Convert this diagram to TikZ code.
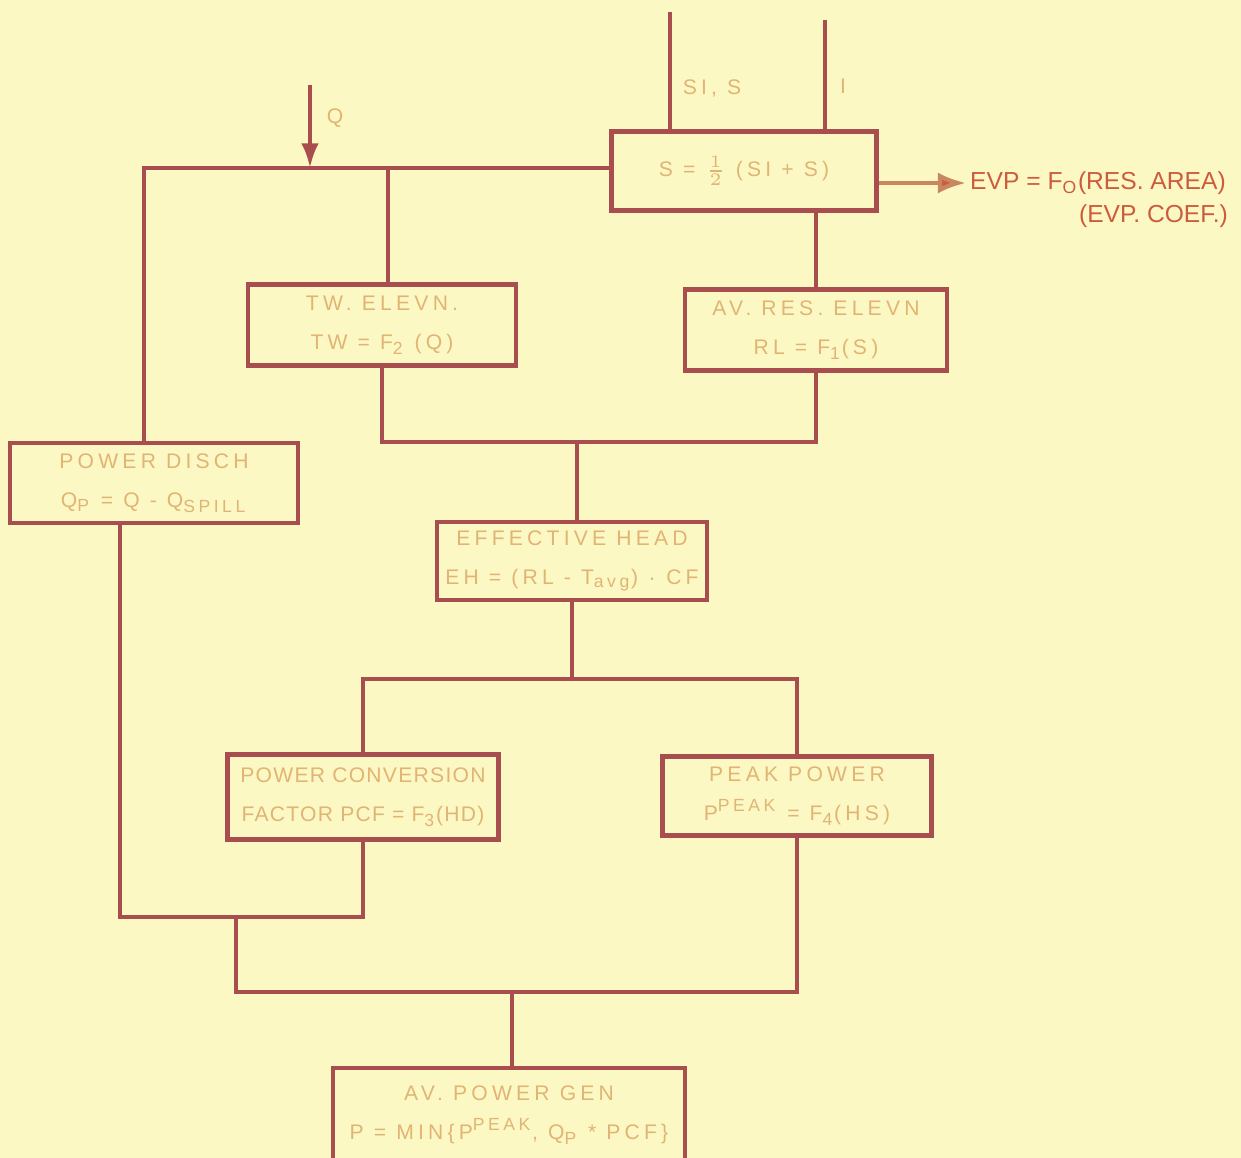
\documentclass[tikz,border=0pt]{standalone}
\usepackage{fontspec}
\newfontfamily\lettering[LetterSpace=20]{Liberation Sans}
\newfontfamily\tightlettering[LetterSpace=6]{Liberation Sans}
\newfontfamily\scrawl{Liberation Sans}
\usetikzlibrary{arrows.meta}
\definecolor{paper}{RGB}{252,248,196}
\definecolor{ink}{RGB}{168,78,78}
\definecolor{faded}{RGB}{226,180,116}
\definecolor{evpred}{RGB}{205,92,62}
\tikzset{font=\lettering\fontsize{6}{9}\selectfont}
\tikzset{blk/.style={draw=ink, line width=1.2pt, inner sep=0pt, align=center, text=faded}}
\tikzset{flow/.style={ink, line width=1.2pt}}
\tikzset{lbl/.style={text=faded, inner sep=1pt}}
\tikzset{evptext/.style={text=evpred, inner sep=1pt, font=\scrawl\fontsize{7}{9}\selectfont}}

\begin{document}
\begin{tikzpicture}[x=0.01cm,y=-0.01cm]
  \fill[paper] (0,0) rectangle (1241,1158);
  \useasboundingbox (0,0) rectangle (1241,1158);

  % boxes
  \node[blk,minimum width=2.65cm,minimum height=0.79cm] (savg) at (744,171)
       {S = $\frac{1}{2}$ (SI + S)};
  \node[blk,minimum width=2.68cm,minimum height=0.81cm] (tw) at (382,325)
       {TW. ELEVN.\\[2pt] TW = F\textsubscript{2} (Q)};
  \node[blk,minimum width=2.62cm,minimum height=0.81cm] (res) at (816,330)
       {AV. RES. ELEVN\\[2pt] RL = F\textsubscript{1}(S)};
  \node[blk,minimum width=2.88cm,minimum height=0.80cm] (disch) at (154,483)
       {POWER DISCH\\[2pt] Q\textsubscript{P} = Q - Q\textsubscript{SPILL}};
  \node[blk,minimum width=2.70cm,minimum height=0.78cm] (head) at (572,561)
       {EFFECTIVE HEAD\\[2pt] EH = (RL - T\textsubscript{avg}) $\cdot$ CF};
  \node[blk,minimum width=2.71cm,minimum height=0.85cm,font=\tightlettering\fontsize{6}{9}\selectfont] (conv) at (363,797)
       {POWER CONVERSION\\[2pt] FACTOR PCF = F\textsubscript{3}(HD)};
  \node[blk,minimum width=2.69cm,minimum height=0.79cm] (peak) at (797,796)
       {PEAK POWER\\[2pt] P\textsuperscript{PEAK} = F\textsubscript{4}(HS)};
  \node[blk,minimum width=3.52cm,minimum height=0.94cm] (gen) at (509,1115)
       {AV. POWER GEN\\[2pt] P = MIN\{P\textsuperscript{PEAK}, Q\textsubscript{P} * PCF\}};

  % inputs
  \coordinate (inSI) at (670,12);
  \coordinate (inI) at (825,20);
  \coordinate (inQ) at (310,85);
  \draw[flow] (inSI) -- (inSI |- savg.north);
  \draw[flow] (inI) -- (inI |- savg.north);
  \node[lbl] (lblSI) at (712,88) {SI, S};
  \node[lbl] (lblI) at (843,86) {I};
  \node[lbl] (lblQ) at (335,118) {Q};

  % upper distribution
  \coordinate (jQ) at (310,168);
  \coordinate (jL) at (144,168);
  \coordinate (jTW) at (388,168);
  \draw[flow,-{Latex[length=7pt,width=5pt]}] (inQ) -- (jQ);
  \draw[flow] (savg.west |- jL) -- (jL) -- (jL |- disch.north);
  \draw[flow] (jTW) -- (jTW |- tw.north);
  \draw[flow] (res.north) -- (res.north |- savg.south);

  % evaporation
  \node[evptext,anchor=west] (evp) at (966,183) {EVP = F\textsubscript{O}(RES. AREA)};
  \node[evptext,anchor=east] (coef) at (1232,216) {(EVP. COEF.)};
  \draw[draw={rgb,255:red,200;green,135;blue,95},line width=1.2pt,
        -{Latex[length=8pt,width=6pt,fill=evpred]}] (savg.east |- evp.west) -- (evp.west);

  % head
  \coordinate (jHead) at (577,442);
  \draw[flow] (tw.south) -- (tw.south |- jHead) -- (res.south |- jHead) -- (res.south);
  \draw[flow] (jHead) -- (jHead |- head.north);

  % split
  \coordinate (jSplit) at (570,679);
  \draw[flow] (head.south) -- (head.south |- jSplit);
  \draw[flow] (conv.north) -- (conv.north |- jSplit) -- (peak.north |- jSplit) -- (peak.north);

  % lower merge
  \coordinate (jLow) at (120,917);
  \coordinate (jMid) at (236,917);
  \coordinate (jOut) at (512,992);
  \draw[flow] (disch.south -| jLow) -- (jLow) -- (conv.south |- jLow) -- (conv.south);
  \draw[flow] (jMid) -- (jMid |- jOut) -- (peak.south |- jOut) -- (peak.south);
  \draw[flow] (jOut) -- (jOut |- gen.north);
\end{tikzpicture}
\end{document}
